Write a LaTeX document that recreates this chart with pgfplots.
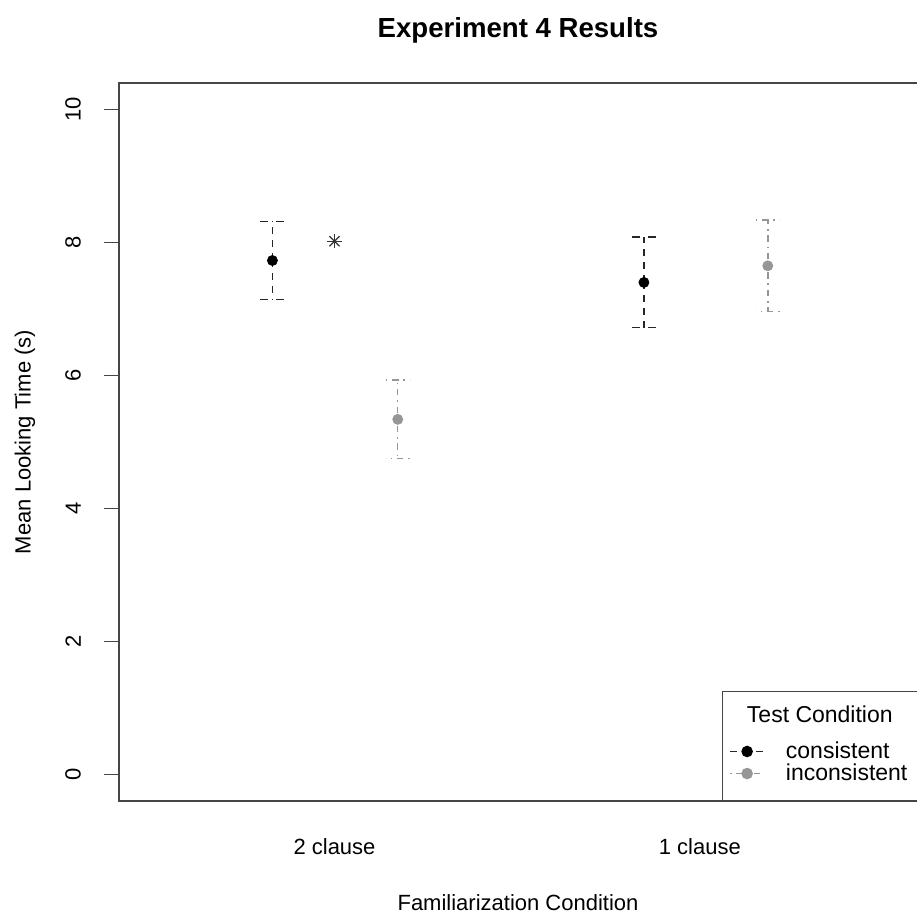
\documentclass[border=0pt]{standalone}
\usepackage{fontspec}
\setmainfont{Liberation Sans}
\usepackage{pgfplots}
\pgfplotsset{compat=1.18}
\definecolor{incgray}{RGB}{150,150,150}
\definecolor{axisgray}{RGB}{70,70,70}

\begin{document}
\begin{tikzpicture}[x=1pt,y=1pt]
\useasboundingbox (0,0) rectangle (458.5,457);
\clip (0,0) rectangle (458.5,457);
\begin{axis}[
  at={(59.5pt,56.5pt)}, anchor=south west,
  scale only axis, width=400pt, height=359pt,
  xmin=0.41, xmax=2.6, ymin=-0.4, ymax=10.4,
  xtick={1,2}, xticklabels={2 clause,1 clause},
  ytick={0,2,...,10},
  /pgf/number format/assume math mode=true,
  axis line style={axisgray, line width=0.7pt},
  tick align=outside,
  major tick length=7.5pt,
  xtick style={draw=none},
  ytick style={axisgray, line width=0.7pt},
  tick label style={font=\fontsize{11}{13}\selectfont},
  yticklabel style={rotate=90, anchor=south, yshift=8pt},
  xticklabel style={anchor=north, yshift=-8pt},
  legend style={at={(rel axis cs:1,0)}, anchor=south east,
    draw=axisgray, line width=0.6pt, font=\fontsize{11.5}{13}\selectfont,
    inner xsep=3.5pt, inner ysep=6.5pt, row sep=-2.8pt, column sep=8.5pt},
  legend cell align=left,
]
\addlegendimage{empty legend}
\addlegendentry{\makebox[0pt][l]{\hspace*{-19.5pt}\raisebox{7pt}[14pt][0pt]{Test Condition}}}
\addlegendimage{black!85, line width=0.75pt, dash pattern=on 3.5pt off 3pt,
  mark=*, mark size=2.5pt, mark options={solid, black}}
\addlegendentry{consistent}
\addlegendimage{incgray, line width=0.75pt, dash pattern=on 0.8pt off 2.4pt on 3.2pt off 2.4pt,
  mark=*, mark size=2.5pt, mark options={solid, incgray}}
\addlegendentry{inconsistent}

% consistent
\addplot[only marks, mark=*, mark size=2.5pt, black, forget plot,
  error bars/.cd, y dir=both, y explicit,
  error bar style={black!85, line width=0.75pt, dash pattern=on 3.5pt off 3pt},
  error mark options={rotate=90, black!85, line width=0.75pt, mark size=6pt, dash pattern=on 4pt off 4pt}]
  coordinates {
  (0.830,7.73) +- (0,0.59)
  (1.847,7.40) +- (0,0.68)
  };
% inconsistent
\addplot[only marks, mark=*, mark size=2.5pt, incgray, forget plot,
  error bars/.cd, y dir=both, y explicit,
  error bar style={incgray, line width=0.75pt, dash pattern=on 0.8pt off 2.4pt on 3.2pt off 2.4pt},
  error mark options={rotate=90, incgray, line width=0.75pt, mark size=6pt, dash pattern=on 0.8pt off 2.4pt on 3.2pt off 2.4pt}]
  coordinates {
  (1.173,5.34) +- (0,0.59)
  (2.186,7.65) +- (0,0.69)
  };
% significance star
\addplot[only marks, mark=+, mark size=3.6pt, black!80, line width=0.6pt, forget plot]
  coordinates {(1,8.02)};
\addplot[only marks, mark=x, mark size=3.6pt, black!80, line width=0.6pt, forget plot]
  coordinates {(1,8.02)};
\end{axis}
\node[font=\bfseries\fontsize{13.8}{16}\selectfont] at (259,442) {Experiment 4 Results};
\node[font=\fontsize{11}{13}\selectfont] at (259,5.5) {Familiarization Condition};
\node[font=\fontsize{11}{13}\selectfont, rotate=90] at (12.5,236) {Mean Looking Time (s)};
\end{tikzpicture}
\end{document}
